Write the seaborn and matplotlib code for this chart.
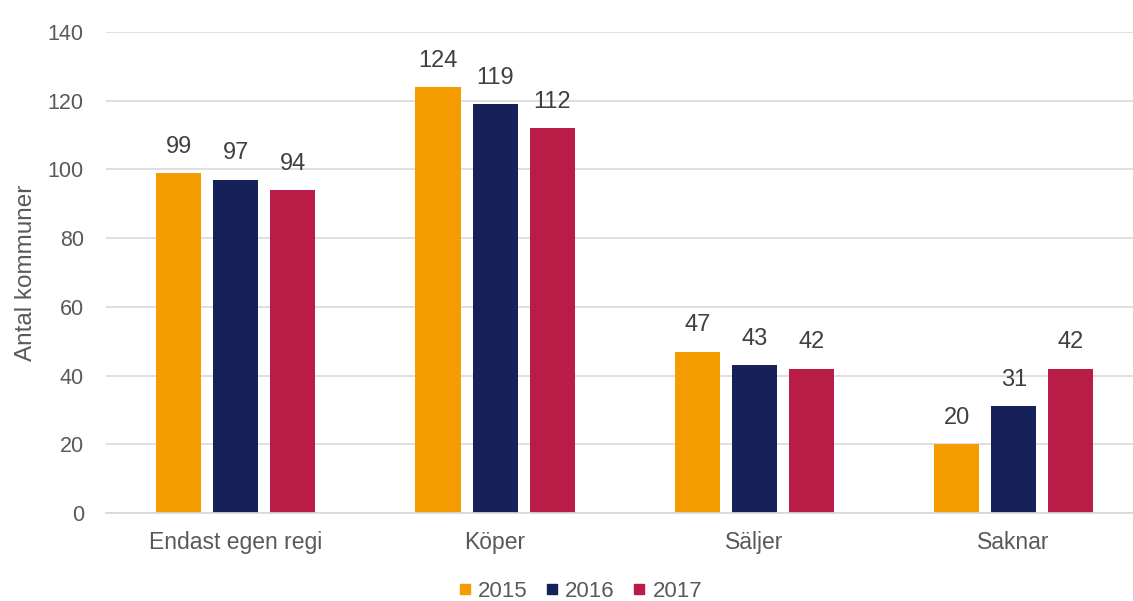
import pandas as pd
import matplotlib.pyplot as plt
import seaborn as sns

kategorier = ['Endast egen regi', 'Köper', 'Säljer', 'Saknar']
ar = ['2015', '2016', '2017']
v2015 = [99, 124, 47, 20]
v2016 = [97, 119, 43, 31]
v2017 = [94, 112, 42, 42]
farger = ['#F59C00', '#16215A', '#BA1C48']

df = pd.DataFrame({
    'kategori': kategorier * 3,
    'ar': [a for a in ar for _ in kategorier],
    'antal': v2015 + v2016 + v2017,
})

sns.set_theme(style='white')
plt.rcParams['font.family'] = ['Liberation Sans', 'DejaVu Sans']
textfarg = '#595959'

fig = plt.figure(figsize=(11.33, 6.01), dpi=100)
ax = fig.add_axes([0.0936, 0.1464, 0.9064, 0.8004])

sns.barplot(data=df, x='kategori', y='antal', hue='ar', palette=farger,
            width=0.66, gap=0.21, saturation=1, linewidth=0, ax=ax, legend=False)

for c in ax.containers:
    ax.bar_label(c, padding=11, fontsize=17, color='#404040')

ax.set_ylim(0, 140)
ax.set_xlim(-0.5, 3.46)
ax.set_yticks(range(0, 141, 20))
ax.yaxis.grid(True, color='#D9D9D9', linewidth=1.2)
ax.set_axisbelow(True)
for s in ax.spines.values():
    s.set_visible(False)
ax.spines['bottom'].set_visible(True)
ax.spines['bottom'].set_color('#D9D9D9')
ax.tick_params(axis='y', length=0, labelsize=15.5, colors=textfarg, pad=16)
ax.tick_params(axis='x', length=0, labelsize=16.5, colors=textfarg, pad=13)
ax.set_xlabel('')
ax.set_ylabel('Antal kommuner', fontsize=17.5, color=textfarg, labelpad=8)

handles = [plt.Line2D([], [], marker='s', linestyle='', markersize=7,
                      color=f) for f in farger]
fig.legend(handles, ar, loc='lower center', bbox_to_anchor=(0.51, -0.035),
           ncol=3, frameon=False, fontsize=16, handletextpad=0.1,
           handlelength=1.0, columnspacing=0.6, labelcolor=textfarg)

fig.savefig('out.png', dpi=100)
